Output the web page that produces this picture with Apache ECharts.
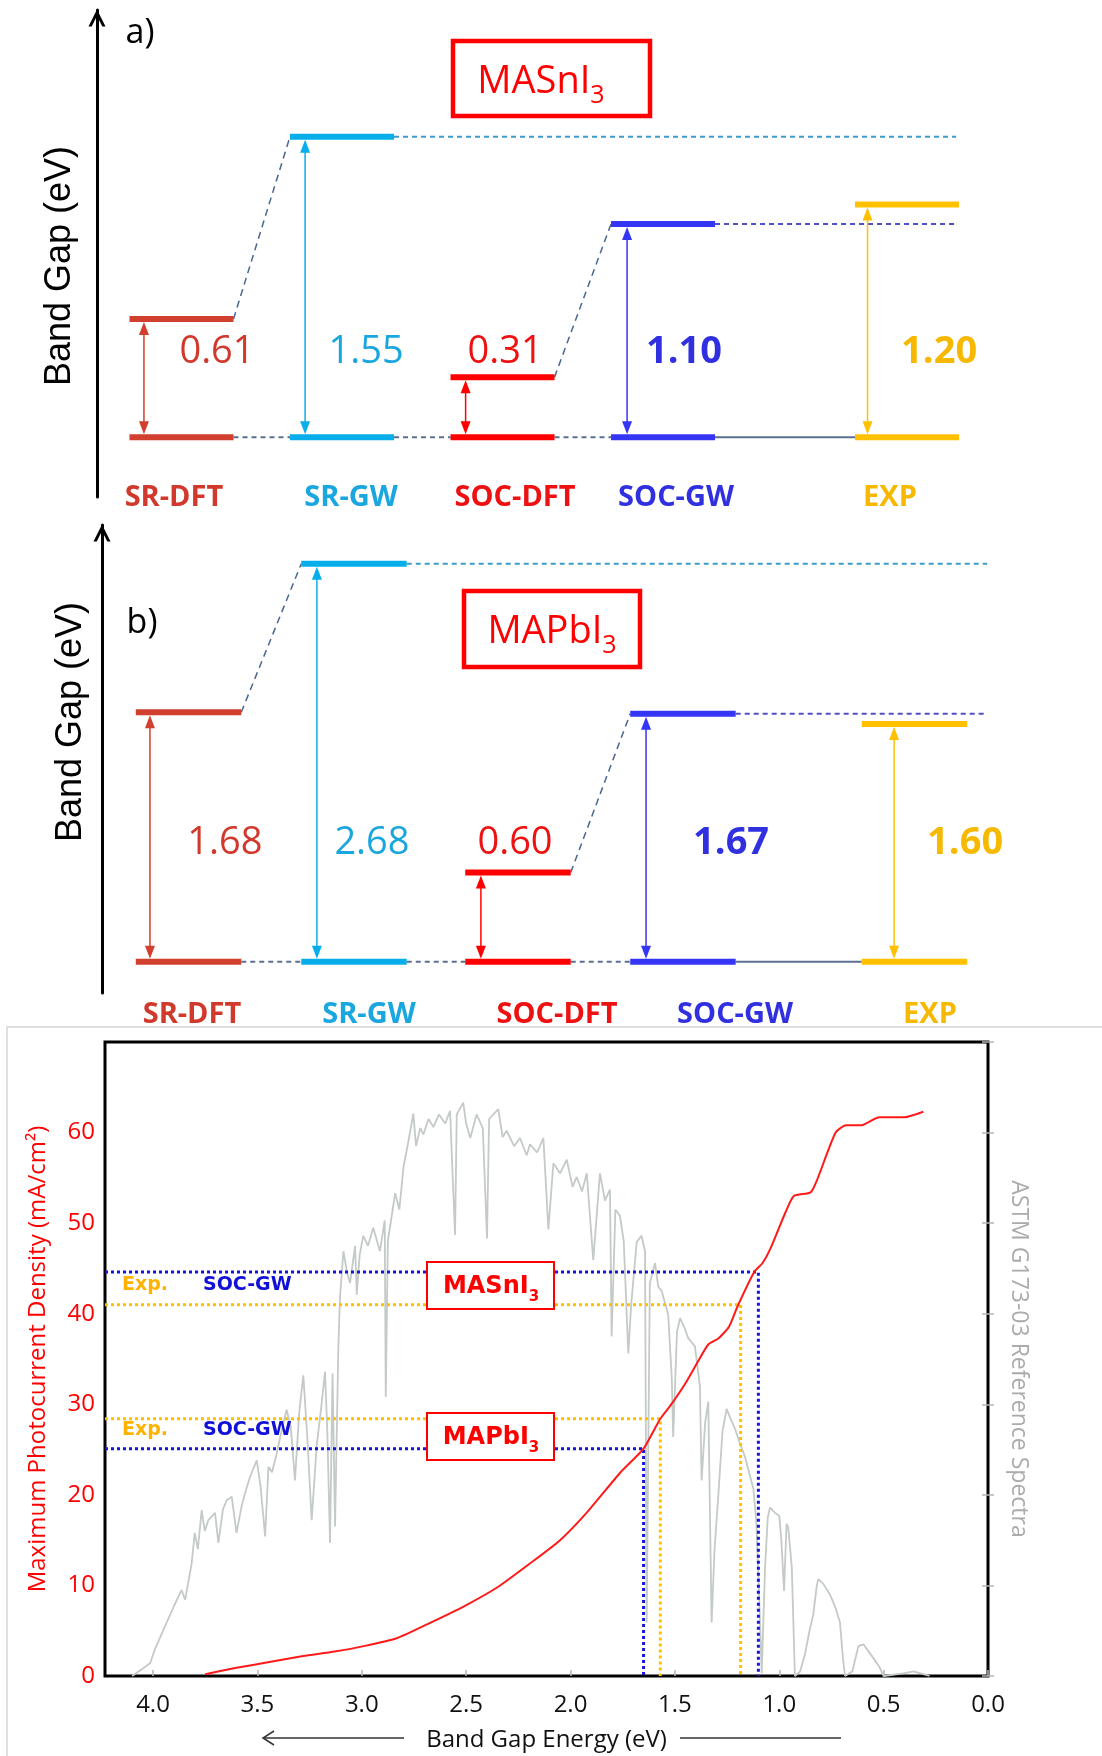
<!DOCTYPE html>
<html><head><meta charset="utf-8">
<script src="https://cdn.jsdelivr.net/npm/echarts@6/dist/echarts.min.js"></script>
<style>html,body{margin:0;padding:0;background:#fff}#c{width:1102px;height:1756px}</style>
</head><body><div id="c"></div>
<script>
// ================= DATA =================
const methods = ['SR-DFT', 'SR-GW', 'SOC-DFT', 'SOC-GW', 'EXP'];
const gapMASnI3 = [0.61, 1.55, 0.31, 1.10, 1.20];
const gapMAPbI3 = [1.68, 2.68, 0.60, 1.67, 1.60];

// ASTM G173-03 reference spectrum (drawn on the right axis, same 0-70 scale)
const spectrumE = [4.10, 4.05, 4.014, 3.99, 3.95, 3.90, 3.863, 3.846, 3.815, 3.80, 3.785, 3.767, 3.752, 3.735, 3.703, 3.687, 3.665, 3.647, 3.623, 3.60,
  3.576, 3.555, 3.535, 3.503, 3.485, 3.463, 3.447, 3.43, 3.407, 3.385, 3.36, 3.34, 3.32, 3.30, 3.28, 3.26, 3.24, 3.216, 3.195, 3.176,
  3.165, 3.152, 3.14, 3.128, 3.112, 3.104, 3.088, 3.07, 3.056, 3.032, 3.024, 3.01, 2.993, 2.97, 2.945, 2.913, 2.89, 2.885, 2.875, 2.84,
  2.82, 2.80, 2.78, 2.753, 2.74, 2.72, 2.705, 2.68, 2.657, 2.63, 2.60, 2.577, 2.553, 2.545, 2.514, 2.50, 2.48, 2.45, 2.42, 2.40,
  2.39, 2.346, 2.325, 2.306, 2.27, 2.242, 2.21, 2.194, 2.16, 2.13, 2.106, 2.082, 2.05, 2.018, 1.99, 1.97, 1.945, 1.922, 1.891, 1.859,
  1.835, 1.811, 1.803, 1.785, 1.763, 1.745, 1.723, 1.71, 1.683, 1.66, 1.643, 1.635, 1.62, 1.595, 1.58, 1.563, 1.545, 1.532, 1.515, 1.508,
  1.49, 1.475, 1.455, 1.436, 1.404, 1.38, 1.372, 1.355, 1.34, 1.324, 1.31, 1.292, 1.272, 1.252, 1.235, 1.212, 1.19, 1.164, 1.145, 1.124,
  1.11, 1.10, 1.084, 1.068, 1.055, 1.044, 1.02, 1.00, 0.99, 0.977, 0.965, 0.957, 0.94, 0.925, 0.90, 0.877, 0.855, 0.837, 0.82, 0.813,
  0.79, 0.757, 0.73, 0.709, 0.695, 0.685, 0.65, 0.621, 0.597, 0.575, 0.55, 0.52, 0.50, 0.405, 0.358, 0.31, 0.28];
const spectrumJ = [0.0, 0.8, 1.4, 3.0, 5.1, 7.7, 9.5, 8.4, 12.4, 15.8, 14.0, 18.3, 16.0, 17.2, 18.0, 14.7, 18.4, 19.4, 19.8, 15.8,
  18.7, 20.5, 22.0, 23.8, 21.0, 15.4, 23.1, 22.5, 24.6, 27.0, 29.4, 27.5, 21.6, 29.0, 33.2, 26.0, 17.2, 25.4, 29.5, 33.6,
  27.0, 14.7, 33.4, 16.5, 36.5, 41.9, 46.9, 44.5, 43.4, 47.5, 42.1, 46.5, 48.6, 47.5, 49.5, 46.9, 50.3, 30.8, 48.0, 53.3,
  51.5, 56.2, 58.6, 62.1, 58.5, 60.5, 59.8, 61.5, 60.6, 62.0, 61.0, 62.4, 48.7, 62.0, 63.3, 61.0, 59.4, 62.0, 60.5, 48.3,
  61.5, 62.6, 59.5, 60.2, 58.5, 59.4, 57.5, 58.7, 57.8, 59.4, 49.3, 56.6, 55.5, 57.0, 54.0, 55.1, 53.5, 55.5, 45.9, 55.5,
  52.5, 53.7, 37.5, 51.5, 50.8, 48.0, 35.6, 40.8, 47.9, 48.6, 46.9, 5.9, 43.4, 45.6, 43.0, 42.5, 41.0, 39.9, 32.9, 26.4,
  38.0, 39.5, 38.5, 37.3, 36.4, 32.0, 21.6, 28.0, 30.3, 5.9, 14.0, 19.9, 27.0, 29.5, 28.5, 27.3, 25.8, 24.2, 22.5, 20.7,
  17.0, 11.2, 0.3, 12.0, 17.5, 18.6, 18.0, 17.7, 15.0, 9.4, 16.8, 16.4, 12.0, 0.0, 0.5, 2.4, 5.0, 6.8, 10.0, 10.7,
  10.2, 9.0, 7.5, 5.9, 2.0, 0.0, 0.5, 3.3, 3.5, 2.8, 2.0, 1.0, 0.0, 0.3, 0.5, 0.2, 0.0];

// Maximum photocurrent density vs band gap
const jscE = [3.75, 3.60, 3.43, 3.28, 3.13, 2.99, 2.83, 2.67, 2.51, 2.35, 2.19, 2.05, 1.92, 1.76, 1.65, 1.57, 1.52, 1.45, 1.39, 1.34,
  1.29, 1.24, 1.20, 1.12, 1.08, 1.04, 0.97, 0.93, 0.85, 0.82, 0.73, 0.68, 0.61, 0.52, 0.40, 0.31];
const jscJ = [0.2, 0.9, 1.6, 2.2, 2.7, 3.3, 4.2, 5.9, 7.7, 9.8, 12.5, 15.0, 18.1, 22.5, 25.1, 28.4, 29.9, 32.3, 34.7, 36.6,
  37.3, 38.6, 40.8, 44.6, 45.6, 47.3, 51.2, 53.0, 53.4, 54.7, 60.0, 60.8, 60.8, 61.7, 61.7, 62.3];

// Read-offs of the band gaps on the photocurrent curve
const readMaterials = ['MASnI3', 'MAPbI3'];
const readSocGwE = [1.10, 1.65];
const readSocGwJ = [44.6, 25.1];
const readExpE = [1.185, 1.57];
const readExpJ = [41.0, 28.4];

const energyTickLabels = ['0.0', '0.5', '1.0', '1.5', '2.0', '2.5', '3.0', '3.5', '4.0'];
const currentTickLabels = ['0', '10', '20', '30', '40', '50', '60'];

// ================= LAYOUT / STYLE =================
const barColors = ['#D13F2F', '#08AEEA', '#FF0000', '#3535F5', '#FFC000'];
const textColors = ['#D0392B', '#1AA6DE', '#EE1111', '#3030E0', '#F7B900'];
const layoutA = { slot: [0, 1, 2, 3, 4.52], half: 0.324, arrow: [-0.234, -0.23, -0.23, -0.224, -0.246],
  valX: [0.221, 1.150, 2.016, 3.131, 4.72], valY: 0.441, catX: [-0.047, 1.056, 2.078, 3.081, 4.414], catY: -0.313, dashEnd: 4.826 };
const layoutB = { slot: [0, 1.004, 1.999, 3.0, 4.405], half: 0.32, arrow: [-0.234, -0.225, -0.225, -0.224, -0.124],
  valX: [0.221, 1.113, 1.981, 3.292, 4.712], valY: 0.80, catX: [0.021, 1.095, 2.236, 3.316, 4.499], catY: -0.359, dashEnd: 4.845 };
const E_MAX = 4.23;

function bandRender(gaps, lay) {
  return function (params, api) {
    const i = params.dataIndex;
    const s = api.value(0), g = api.value(1);
    const x0 = api.coord([s - lay.half, 0])[0], x1 = api.coord([s + lay.half, 0])[0];
    const yb = api.coord([s, 0])[1], yt = api.coord([s, g])[1];
    const col = barColors[i];
    const ch = [];
    const T = 6;
    if (i === 0 || i === 2) {
      const p2 = api.coord([lay.slot[i + 1] - lay.half, gaps[i + 1]]);
      ch.push({ type: 'line', shape: { x1: x1, y1: yt, x2: p2[0], y2: p2[1] }, style: { stroke: '#4a6790', lineWidth: 1.5, lineDash: [7, 5] } });
    }
    if (i === 1 || i === 3) {
      const xe = api.coord([lay.dashEnd, g])[0];
      ch.push({ type: 'line', shape: { x1: x1, y1: yt, x2: xe, y2: yt }, style: { stroke: i === 1 ? '#3d9cc9' : '#5050c4', lineWidth: 2, lineDash: [5, 4] } });
    }
    if (i < 4) {
      const nx = api.coord([lay.slot[i + 1] - lay.half, 0])[0];
      ch.push({ type: 'line', shape: { x1: x1, y1: yb, x2: nx, y2: yb }, style: { stroke: '#5b7090', lineWidth: 2, lineDash: i === 3 ? null : [5, 4] } });
    }
    ch.push({ type: 'rect', shape: { x: x0, y: yb - T / 2, width: x1 - x0, height: T }, style: { fill: col } });
    ch.push({ type: 'rect', shape: { x: x0, y: yt - T / 2, width: x1 - x0, height: T }, style: { fill: col } });
    const ax = api.coord([s + lay.arrow[i], 0])[0];
    const ya = yt + T / 2, yz = yb - T / 2, H = 13, W = 5;
    ch.push({ type: 'line', shape: { x1: ax, y1: ya + H - 1, x2: ax, y2: yz - H + 1 }, style: { stroke: col, lineWidth: 1.5 } });
    ch.push({ type: 'polygon', shape: { points: [[ax, ya], [ax - W, ya + H], [ax + W, ya + H]] }, style: { fill: col } });
    ch.push({ type: 'polygon', shape: { points: [[ax, yz], [ax - W, yz - H], [ax + W, yz - H]] }, style: { fill: col } });
    const vp = api.coord([lay.valX[i], lay.valY]);
    ch.push({ type: 'text', x: vp[0], y: vp[1], style: { text: g.toFixed(2), fill: textColors[i],
      font: (i >= 3 ? 'bold ' : '') + '38px "Open Sans"', align: 'center', verticalAlign: 'middle' } });
    const cp = api.coord([lay.catX[i], lay.catY]);
    ch.push({ type: 'text', x: cp[0], y: cp[1], style: { text: methods[i], fill: textColors[i],
      font: 'bold 29px "Open Sans"', align: 'center', verticalAlign: 'middle' } });
    return { type: 'group', children: ch };
  };
}

const chevronUp = 'path://M0,16 L8,0 L16,16 L13,16 L8,6 L3,16 Z';

function bandAxisY(grid, min, max) {
  return { gridIndex: grid, type: 'value', min: min, max: max, position: 'left',
    axisLine: { show: true, onZero: false, lineStyle: { color: '#000', width: 3 }, symbol: ['none', chevronUp], symbolSize: [17, 17], symbolOffset: [0, -8] },
    axisTick: { show: false }, axisLabel: { show: false }, splitLine: { show: false } };
}
function bandAxisX(grid, min, max) {
  return { gridIndex: grid, type: 'value', min: min, max: max, show: false, splitLine: { show: false } };
}

function subText(x, y, main, sub, font, size, subSize, pad, color, weight) {
  return { type: 'text', x: x, y: y, z: 101, style: { text: '{m|' + main + '}{s|' + sub + '}', align: 'center', verticalAlign: 'middle',
    rich: { m: { fontFamily: font, fontSize: size, fontWeight: weight, fill: color },
            s: { fontFamily: font, fontSize: subSize, fontWeight: weight, fill: color, padding: [pad, 0, 0, 0] } } } };
}

const chart = echarts.init(document.getElementById('c'), null, { renderer: 'canvas' });
const midLabel = v => (Math.abs(v * 2 - Math.round(v * 2)) < 1e-6 && v <= 4.0001) ? energyTickLabels[Math.round(v * 2)] : '';
const curLabel = v => { const k = Math.round(v / 10); return (Math.abs(v - k * 10) < 1e-6 && k < currentTickLabels.length) ? currentTickLabels[k] : ''; };

chart.setOption({
  animation: false,
  backgroundColor: '#fff',
  grid: [
    { left: 97, top: 10, width: 893, height: 487 },
    { left: 102, top: 525, width: 888, height: 468 },
    { left: 105, top: 1042, width: 883, height: 634, show: true, borderColor: '#000', borderWidth: 3, backgroundColor: 'transparent' }
  ],
  xAxis: [
    bandAxisX(0, -0.5265, 5.037),
    bandAxisX(1, -0.525, 4.863),
    { gridIndex: 2, type: 'value', inverse: true, min: 0, max: E_MAX, interval: 0.5,
      axisLine: { show: false }, splitLine: { show: false },
      axisTick: { show: true, inside: true, length: 6, lineStyle: { color: '#b5b5b5', width: 1.5 } },
      axisLabel: { formatter: midLabel, color: '#111', fontFamily: 'Open Sans', fontSize: 24, margin: 17, showMaxLabel: false },
      name: 'Band Gap Energy (eV)', nameLocation: 'middle', nameGap: 52,
      nameTextStyle: { fontFamily: 'Open Sans', fontSize: 24, color: '#111' } }
  ],
  yAxis: [
    bandAxisY(0, -0.308, 2.203),
    bandAxisY(1, -0.211, 2.941),
    { gridIndex: 2, type: 'value', min: 0, max: 70, interval: 10, position: 'left',
      axisLine: { show: false }, splitLine: { show: false },
      axisTick: { show: true, inside: true, length: 6, lineStyle: { color: '#b5b5b5', width: 1.5 } },
      axisLabel: { formatter: curLabel, color: '#ff0000', fontFamily: 'Open Sans', fontSize: 24, margin: 10 },
      name: 'Maximum Photocurrent Density (mA/cm²)', nameLocation: 'middle', nameGap: 55,
      nameTextStyle: { fontFamily: 'Open Sans', fontSize: 24, color: '#ff0000' } },
    { gridIndex: 2, type: 'value', min: 0, max: 70, interval: 10, position: 'right',
      axisLine: { show: false }, splitLine: { show: false },
      axisTick: { show: true, inside: true, length: 6, lineStyle: { color: '#b5b5b5', width: 1.5 } },
      axisLabel: { show: false },
      name: 'ASTM G173-03 Reference Spectra', nameLocation: 'middle', nameRotate: -90, nameGap: 19,
      nameTextStyle: { fontFamily: 'Open Sans', fontSize: 23, color: '#ababab' } }
  ],
  series: [
    { type: 'custom', xAxisIndex: 0, yAxisIndex: 0, clip: false, silent: true,
      data: gapMASnI3.map((g, i) => [layoutA.slot[i], g]), renderItem: bandRender(gapMASnI3, layoutA) },
    { type: 'custom', xAxisIndex: 1, yAxisIndex: 1, clip: false, silent: true,
      data: gapMAPbI3.map((g, i) => [layoutB.slot[i], g]), renderItem: bandRender(gapMAPbI3, layoutB) },
    { type: 'line', name: 'ASTM G173-03', xAxisIndex: 2, yAxisIndex: 3, showSymbol: false, silent: true, z: 1,
      data: spectrumE.map((e, i) => [e, spectrumJ[i]]), lineStyle: { color: '#c4cac5', width: 1.8 } },
    ...readMaterials.map((m, k) => ({ type: 'line', name: m + ' Exp', xAxisIndex: 2, yAxisIndex: 2, showSymbol: false, silent: true, z: 2,
      data: [[E_MAX, readExpJ[k]], [readExpE[k], readExpJ[k]], [readExpE[k], 0]],
      lineStyle: { color: '#FFC000', width: 3, type: [3, 3] } })),
    ...readMaterials.map((m, k) => ({ type: 'line', name: m + ' SOC-GW', xAxisIndex: 2, yAxisIndex: 2, showSymbol: false, silent: true, z: 3,
      data: [[E_MAX, readSocGwJ[k]], [readSocGwE[k], readSocGwJ[k]], [readSocGwE[k], 0]],
      lineStyle: { color: '#1515E0', width: 3, type: [3, 3] } })),
    { type: 'line', name: 'Jsc', xAxisIndex: 2, yAxisIndex: 2, showSymbol: false, silent: true, z: 5,
      smooth: 0.2,
      data: jscE.map((e, i) => [e, jscJ[i]]), lineStyle: { color: '#ff1a1a', width: 2 } }
  ],
  graphic: [
    { type: 'rect', z: -10, shape: { x: 7, y: 1027, width: 1200, height: 800 }, style: { fill: 'none', stroke: '#d6d6d6', lineWidth: 1.5 } },
    { type: 'text', x: 140, y: 33, z: 100, style: { text: 'a)', font: '34px "Open Sans"', fill: '#000', align: 'center', verticalAlign: 'middle' } },
    { type: 'text', x: 142, y: 623, z: 100, style: { text: 'b)', font: '34px "Open Sans"', fill: '#000', align: 'center', verticalAlign: 'middle' } },
    { type: 'text', x: 60, y: 266, rotation: Math.PI / 2, z: 100, style: { text: 'Band Gap (eV)', font: '36px "Liberation Sans"', fill: '#000', align: 'center', verticalAlign: 'middle' } },
    { type: 'text', x: 71, y: 722, rotation: Math.PI / 2, z: 100, style: { text: 'Band Gap (eV)', font: '36px "Liberation Sans"', fill: '#000', align: 'center', verticalAlign: 'middle' } },
    { type: 'rect', z: 100, shape: { x: 453, y: 41, width: 197, height: 75 }, style: { fill: '#fff', stroke: '#f00', lineWidth: 4.5 } },
    subText(541, 82, 'MASnI', '3', 'Open Sans', 38, 25, 28, '#f00', 'normal'),
    { type: 'rect', z: 100, shape: { x: 464, y: 591, width: 176, height: 76 }, style: { fill: '#fff', stroke: '#f00', lineWidth: 4.5 } },
    subText(552, 632, 'MAPbI', '3', 'Open Sans', 38, 25, 28, '#f00', 'normal'),
    { type: 'rect', z: 100, shape: { x: 427, y: 1262, width: 127, height: 47 }, style: { fill: '#fff', stroke: '#f00', lineWidth: 2 } },
    subText(491, 1287, 'MASnI', '3', 'DejaVu Sans', 24, 15, 20, '#f00', 'bold'),
    { type: 'rect', z: 100, shape: { x: 427, y: 1413, width: 127, height: 47 }, style: { fill: '#fff', stroke: '#f00', lineWidth: 2 } },
    subText(491, 1438, 'MAPbI', '3', 'DejaVu Sans', 24, 15, 20, '#f00', 'bold'),
    { type: 'text', x: 122, y: 1285, z: 100, style: { text: 'Exp.', font: 'bold 19px "DejaVu Sans"', fill: '#FFB300', verticalAlign: 'middle' } },
    { type: 'text', x: 203, y: 1285, z: 100, style: { text: 'SOC-GW', font: 'bold 19px "DejaVu Sans"', fill: '#1010D8', verticalAlign: 'middle' } },
    { type: 'text', x: 122, y: 1430, z: 100, style: { text: 'Exp.', font: 'bold 19px "DejaVu Sans"', fill: '#FFB300', verticalAlign: 'middle' } },
    { type: 'text', x: 203, y: 1430, z: 100, style: { text: 'SOC-GW', font: 'bold 19px "DejaVu Sans"', fill: '#1010D8', verticalAlign: 'middle' } },
    { type: 'line', z: 100, shape: { x1: 263, y1: 1738, x2: 404, y2: 1738 }, style: { stroke: '#333', lineWidth: 1.5 } },
    { type: 'polyline', z: 100, shape: { points: [[274, 1731], [263, 1738], [274, 1745]] }, style: { stroke: '#333', lineWidth: 1.5, fill: 'none' } },
    { type: 'line', z: 100, shape: { x1: 680, y1: 1738, x2: 841, y2: 1738 }, style: { stroke: '#333', lineWidth: 1.5 } }
  ]
});
</script>
</body></html>
